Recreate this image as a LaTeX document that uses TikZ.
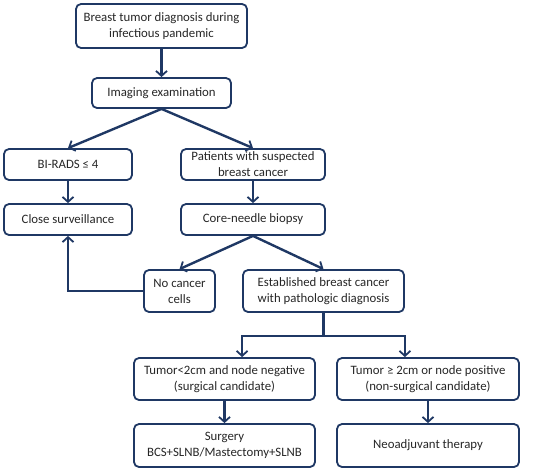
\documentclass[tikz,border=0pt]{standalone}
\usepackage{fontspec}
\setmainfont{Carlito}
\usepackage{tikz}
\usetikzlibrary{arrows.meta,positioning}
\definecolor{navy}{HTML}{1F3864}

\begin{document}
\begin{tikzpicture}[x=1pt,y=-1pt,
	box/.style={draw=navy, line width=1.8pt, rounded corners=5pt, align=center,
		inner sep=0pt, font=\fontsize{12.8}{16}\selectfont, text=black!85},
	link/.style={draw=navy, line width=2.4pt},
	flow/.style={link, -{Straight Barb[length=5pt,width=11pt,line width=1.8pt]}}]
			\useasboundingbox (0,0) rectangle (551,471);
			\node[box, minimum width=171pt, minimum height=44pt] (Start) at (161.5,26) {Breast tumor diagnosis during\\infectious pandemic} ;
			\node[box, minimum width=139pt, minimum height=30pt] (Img) at (161.5,93) {Imaging examination} ;
			\node[box, minimum width=128pt, minimum height=31pt] (Birads) at (68,164.5) {BI-RADS ≤ 4} ;
			\node[box, minimum width=144pt, minimum height=31pt] (Susp) at (253,164.5) {Patients with suspected\\breast cancer} ;
			\node[box, minimum width=128pt, minimum height=31pt] (Surv) at (68,219.5) {Close surveillance} ;
			\node[box, minimum width=144pt, minimum height=31pt] (Core) at (253,219.5) {Core-needle biopsy} ;
			\node[box, minimum width=71pt, minimum height=42pt] (NoCa) at (179.5,291) {No cancer\\cells} ;
			\node[box, minimum width=161pt, minimum height=42pt] (Estab) at (323.5,291) {Established breast cancer\\with pathologic diagnosis} ;
			\node[box, minimum width=181pt, minimum height=42pt] (Small) at (224.5,379) {Tumor<2cm and node negative\\(surgical candidate)} ;
			\node[box, minimum width=182pt, minimum height=42pt] (Large) at (428,379) {Tumor ≥ 2cm or node positive\\(non-surgical candidate)} ;
			\node[box, minimum width=181pt, minimum height=43pt] (Surg) at (224.5,445.5) {Surgery\\BCS+SLNB/Mastectomy+SLNB} ;
			\node[box, minimum width=182pt, minimum height=43pt] (Neo) at (428,445.5) {Neoadjuvant therapy} ;
			
			\draw[flow] (Start) -- (Img) ;
			\draw[flow] (Img.south) -- (Birads.north) ;
			\draw[flow] (Img.south) -- (Susp.north) ;
			
			\draw[flow] (Birads) -- (Surv) ;
			\draw[flow] (Susp) -- (Core) ;
			
			\draw[flow] (Core.south) -- (NoCa.north) ;
			\draw[flow] (Core.south) -- (Estab.north) ;
			\draw[flow] (NoCa.west) -| (Surv.south) ;
			
			\draw[link] (Estab.south) -- ++(0,23) coordinate (Split) ;
			\draw[flow] (Split) -| (Estab.west |- Small.north) ;
			\draw[flow] (Split) -| (Estab.east |- Large.north) ;
			
			\draw[flow] (Small) -- (Surg) ;
			\draw[flow] (Large) -- (Neo) ;
		\end{tikzpicture}
\end{document}
